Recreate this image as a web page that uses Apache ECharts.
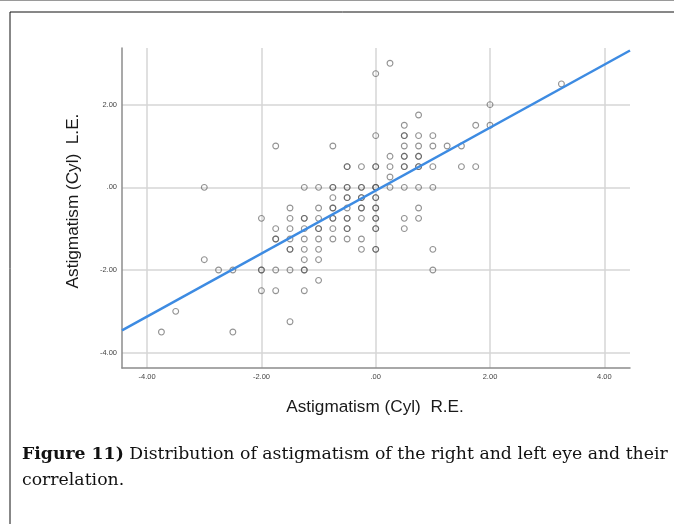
<!DOCTYPE html>
<html>
<head>
<meta charset="utf-8">
<script src="https://cdn.jsdelivr.net/npm/echarts@6/dist/echarts.min.js"></script>
<style>
html,body{margin:0;padding:0;background:#fff;}
#c{width:674px;height:524px;}
</style>
</head>
<body>
<div id="c"></div>
<script>
// L.E. cylinder value of each row of points, and the R.E. values found on that row
// (values listed twice are places where the reference shows a darker, overlapping circle)
const leLevels = [3.0, 2.75, 2.5, 2.0, 1.75, 1.5, 1.25, 1.0, 0.75, 0.5, 0.25, 0, -0.25, -0.5, -0.75, -1.0, -1.25, -1.5, -1.75, -2.0, -2.25, -2.5, -3.0, -3.25, -3.5];
const reAtLevel = [
  [0.25],
  [0],
  [3.25],
  [2.0],
  [0.75],
  [0.5, 1.75, 2.0],
  [0, 0.5, 0.5, 0.75, 1.0],
  [-1.75, -0.75, 0.5, 0.75, 1.0, 1.25, 1.5],
  [0.25, 0.5, 0.5, 0.75, 0.75],
  [-0.5, -0.5, -0.25, 0, 0, 0.25, 0.5, 0.5, 0.75, 0.75, 1.0, 1.5, 1.75],
  [0.25],
  [-3.0, -1.25, -1.0, -0.75, -0.75, -0.5, -0.5, -0.25, -0.25, 0, 0, 0, 0.25, 0.5, 0.75, 1.0],
  [-0.75, -0.5, -0.5, -0.25, -0.25, 0, 0],
  [-1.5, -1.0, -0.75, -0.75, -0.5, -0.25, -0.25, 0, 0, 0.75],
  [-2.0, -1.5, -1.25, -1.25, -1.0, -0.75, -0.75, -0.5, -0.5, -0.25, 0, 0, 0.5, 0.75],
  [-1.75, -1.5, -1.25, -1.0, -1.0, -0.75, -0.5, -0.5, 0, 0, 0.5],
  [-1.75, -1.75, -1.5, -1.25, -1.0, -0.75, -0.5, -0.25],
  [-1.5, -1.5, -1.25, -1.0, -0.25, 0, 0, 1.0],
  [-3.0, -1.25, -1.0],
  [-2.75, -2.5, -2.0, -2.0, -1.75, -1.5, -1.25, -1.25, 1.0],
  [-1.0],
  [-2.0, -1.75, -1.25],
  [-3.5],
  [-1.5],
  [-3.75, -2.5]
];
// fit line endpoints (R.E., L.E.) read at the plot edges
const fitRE = [-4.44, 4.45];
const fitLE = [-3.46, 3.31];
// axis ticks
const xTicks = [-4, -2, 0, 2, 4];
const yTicks = [-4, -2, 0, 2];
const xRange = [-4.44, 4.45];
const yRange = [-4.37, 3.37];
const xTitle = 'Astigmatism (Cyl)  R.E.';
const yTitle = 'Astigmatism (Cyl)  L.E.';
const captionBold = 'Figure 11)';
const captionLine1 = ' Distribution of astigmatism of the right and left eye and their';
const captionLine2 = 'correlation.';

const points = [];
leLevels.forEach((le, i) => reAtLevel[i].forEach(re => points.push([re, le])));
const fitData = fitRE.map((r, i) => [r, fitLE[i]]);

function fmt(v) {
  let s = Math.abs(v).toFixed(2);
  if (Math.abs(v) < 1) s = s.replace(/^0/, '');
  return (v < 0 ? '-' : '') + s;
}

const chart = echarts.init(document.getElementById('c'), null, {renderer: 'canvas'});
const axisCommon = {
  type: 'value',
  axisLine: {show: true, onZero: false, lineStyle: {color: '#8c8c8c', width: 1.5}},
  splitLine: {show: true, lineStyle: {color: '#d6d6d6', width: 1.5}},
  axisLabel: {color: '#444', fontSize: 7.5, fontFamily: 'Liberation Sans', formatter: fmt}
};
chart.setOption({
  animation: false,
  grid: {left: 122, right: 44, top: 48, bottom: 156},
  xAxis: Object.assign({}, axisCommon, {
    min: xRange[0], max: xRange[1],
    axisTick: {show: false, customValues: xTicks},
    axisLabel: Object.assign({}, axisCommon.axisLabel, {customValues: xTicks, margin: 5})
  }),
  yAxis: Object.assign({}, axisCommon, {
    min: yRange[0], max: yRange[1],
    axisTick: {show: false, customValues: yTicks},
    axisLabel: Object.assign({}, axisCommon.axisLabel, {customValues: yTicks, margin: 5})
  }),
  series: [
    {
      type: 'scatter',
      data: points,
      symbol: 'circle',
      symbolSize: 5.8,
      itemStyle: {color: 'rgba(255,255,255,0)', borderColor: 'rgba(80,80,80,0.62)', borderWidth: 1.1, opacity: 1},
      z: 2
    },
    {
      type: 'line',
      data: fitData,
      showSymbol: false,
      lineStyle: {color: '#3d8be2', width: 2.5},
      z: 3
    }
  ],
  graphic: [
    {type: 'rect', shape: {x: 0, y: 0, width: 674, height: 1}, style: {fill: '#9a9a9a'}},
    {type: 'rect', shape: {x: 10, y: 12, width: 700, height: 600}, style: {fill: 'none', stroke: '#111', lineWidth: 1}},
    {type: 'text', x: 73, y: 201, rotation: Math.PI / 2,
     style: {text: yTitle, fontSize: 17.2, fontFamily: 'Liberation Sans', fill: '#1a1a1a', textAlign: 'center', textVerticalAlign: 'middle'}},
    {type: 'text', x: 375, y: 407,
     style: {text: xTitle, fontSize: 17.2, fontFamily: 'Liberation Sans', fill: '#1a1a1a', textAlign: 'center', textVerticalAlign: 'middle'}},
    {type: 'text', x: 22, y: 455,
     style: {text: '{b|' + captionBold + '}{n|' + captionLine1 + '}', fill: '#111', textVerticalAlign: 'middle',
             rich: {b: {fontWeight: 'bold', fontSize: 17.3, fontFamily: 'DejaVu Serif', fill: '#111'},
                    n: {fontSize: 17.3, fontFamily: 'DejaVu Serif', fill: '#111'}}}},
    {type: 'text', x: 22, y: 481,
     style: {text: captionLine2, fontSize: 17.3, fontFamily: 'DejaVu Serif', fill: '#111', textVerticalAlign: 'middle'}}
  ]
});
</script>
</body>
</html>
